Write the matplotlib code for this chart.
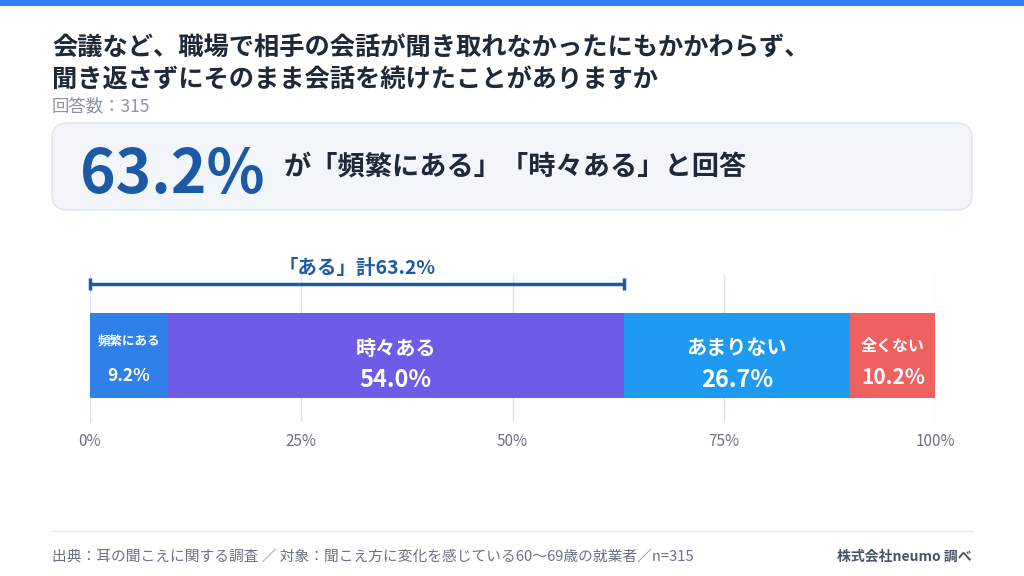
import matplotlib
matplotlib.use("Agg")
import matplotlib.pyplot as plt
from matplotlib.patches import FancyBboxPatch, Rectangle

plt.rcParams['font.family'] = ['Noto Sans CJK JP', 'DejaVu Sans']

categories = ["頻繁にある", "時々ある", "あまりない", "全くない"]
values = [9.2, 54.0, 26.7, 10.2]
colors = ["#2f80e8", "#6c5ce7", "#1e9bf0", "#ef6060"]
ticks = [0, 25, 50, 75, 100]
tick_labels = ["0%", "25%", "50%", "75%", "100%"]
title_lines = ["会議など、職場で相手の会話が聞き取れなかったにもかかわらず、",
               "聞き返さずにそのまま会話を続けたことがありますか"]
n_text = "回答数：315"
headline_num = "63.2%"
headline_text = "が「頻繁にある」「時々ある」と回答"
bracket_label = "「ある」計63.2%"
bracket_value = 63.2
footer_left = "出典：耳の聞こえに関する調査 ／ 対象：聞こえ方に変化を感じている60〜69歳の就業者／n=315"
footer_right = "株式会社neumo 調べ"

W, H = 1024, 576
fig = plt.figure(figsize=(W / 100, H / 100), dpi=100)
fig.patch.set_facecolor("white")

def fx(px):
    return px / W

def fy(py):
    return 1 - py / H

# top accent bar
fig.patches.append(Rectangle((0, fy(6)), 1, 6 / H, transform=fig.transFigure,
                             facecolor="#2f80ed", edgecolor="none"))

# title
dark = "#1f2937"
fig.text(fx(52), fy(48), title_lines[0], fontsize=18.2, fontweight="bold", color=dark, va="center")
fig.text(fx(52), fy(80), title_lines[1], fontsize=18.2, fontweight="bold", color=dark, va="center")
fig.text(fx(52), fy(106), n_text, fontsize=12.5, color="#8a94a3", va="center")

# headline box
box = FancyBboxPatch((fx(52), fy(210)), fx(920), (210 - 123) / H,
                     boxstyle="round,pad=0,rounding_size=0.015",
                     transform=fig.transFigure, facecolor="#f2f5fa",
                     edgecolor="#dbe3ee", linewidth=1.0, mutation_aspect=W / H)
fig.patches.append(box)
fig.text(fx(80), fy(175), headline_num, fontsize=43.5, fontweight="bold", color="#1d5aa5", va="center")
fig.text(fx(284), fy(167), headline_text, fontsize=19.6, fontweight="bold", color=dark, va="center")

# chart axes
top_px, bot_px = 275, 422
bar_top, bar_bot = 313, 398
unit = bar_bot - bar_top
center = (bar_top + bar_bot) / 2
ax = fig.add_axes([fx(90), fy(bot_px), fx(845), (bot_px - top_px) / H])
ax.set_xlim(0, 100)
ax.set_ylim(-(bot_px - center) / unit, (center - top_px) / unit)
for s in ax.spines.values():
    s.set_visible(False)
ax.set_yticks([])
ax.set_xticks(ticks)
ax.set_xticklabels(tick_labels, fontsize=11, color="#6b7280")
ax.tick_params(axis="x", length=0, pad=8)
ax.set_axisbelow(True)
ax.grid(axis="x", color="#d9e1ec", linewidth=1)
ax.patch.set_alpha(0)

def ypx(p):
    return (center - p) / unit

left = 0
for i, (c, v, col) in enumerate(zip(categories, values, colors)):
    ax.barh(0, v, left=left, height=1.0, color=col, edgecolor="none")
    mid = left + v / 2
    if i == 0:
        ax.text(mid, ypx(341), c, fontsize=9, fontweight="bold", color="white", ha="center", va="center")
        ax.text(mid, ypx(376), f"{v:.1f}%", fontsize=12.5, fontweight="bold", color="white", ha="center", va="center")
    elif i == 3:
        ax.text(mid, ypx(346), c, fontsize=11.5, fontweight="bold", color="white", ha="center", va="center")
        ax.text(mid, ypx(378), f"{v:.1f}%", fontsize=15, fontweight="bold", color="white", ha="center", va="center")
    else:
        ax.text(mid, ypx(348), c, fontsize=14.5, fontweight="bold", color="white", ha="center", va="center")
        ax.text(mid, ypx(380), f"{v:.1f}%", fontsize=17, fontweight="bold", color="white", ha="center", va="center")
    left += v

# bracket
by = ypx(284)
navy = "#1d5aa5"
ax.plot([0, bracket_value], [by, by], color=navy, linewidth=2.5, clip_on=False, solid_capstyle="butt")
for xv in (0, bracket_value):
    ax.plot([xv, xv], [by - 0.07, by + 0.07], color=navy, linewidth=2.5, clip_on=False, solid_capstyle="butt")
ax.text(bracket_value / 2, ypx(268), bracket_label, fontsize=14, fontweight="bold",
        color=navy, ha="center", va="center", clip_on=False)

# footer
fig.lines.append(plt.Line2D([fx(52), fx(972)], [fy(531), fy(531)], transform=fig.transFigure,
                            color="#e3e8ef", linewidth=1))
fig.text(fx(52), fy(557), footer_left, fontsize=10.6, color="#6b7280", va="center")
fig.text(fx(972), fy(557), footer_right, fontsize=10, fontweight="bold", color="#4b5563", va="center", ha="right")

fig.savefig("out.png", dpi=100)
